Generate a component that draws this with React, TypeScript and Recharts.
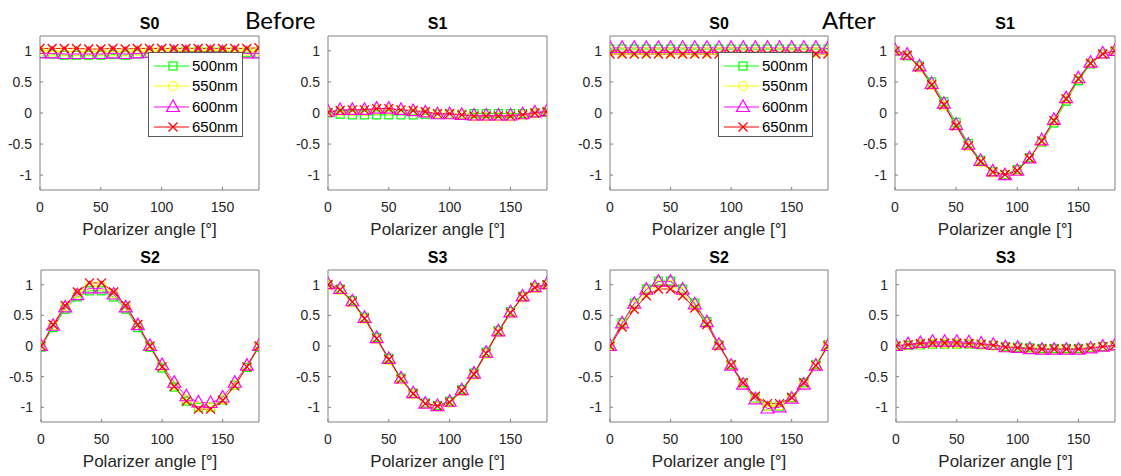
import React from 'react';
import { LineChart, Line, XAxis, YAxis, Legend } from 'recharts';

// Polarizer angles (degrees)
const angles = [0, 10, 20, 30, 40, 50, 60, 70, 80, 90, 100, 110, 120, 130, 140, 150, 160, 170, 180];

// Normalised Stokes parameters, before
const beforeS0_500 = [0.96, 0.95, 0.93, 0.93, 0.93, 0.93, 0.94, 0.93, 0.95, 0.96, 0.97, 0.98, 0.99, 0.99, 0.99, 0.99, 0.98, 0.97, 0.96];
const beforeS0_550 = [1.0, 0.99, 0.99, 0.99, 0.99, 0.99, 0.99, 0.99, 1.0, 1.0, 1.0, 1.01, 1.01, 1.01, 1.01, 1.01, 1.0, 1.0, 1.0];
const beforeS0_600 = [0.96, 0.96, 0.95, 0.95, 0.95, 0.95, 0.96, 0.95, 0.96, 0.97, 0.97, 0.98, 0.98, 0.98, 0.98, 0.98, 0.97, 0.96, 0.96];
const beforeS0_650 = [1.04, 1.04, 1.04, 1.04, 1.03, 1.03, 1.04, 1.03, 1.04, 1.04, 1.04, 1.04, 1.04, 1.04, 1.04, 1.04, 1.04, 1.04, 1.05];

const beforeS1_500 = [0.0, -0.02, -0.03, -0.03, -0.03, -0.03, -0.03, -0.03, -0.02, -0.02, -0.02, -0.02, -0.01, -0.01, -0.01, -0.01, -0.01, 0.0, 0.01];
const beforeS1_550 = [0.01, 0.02, 0.03, 0.03, 0.05, 0.05, 0.04, 0.03, 0.01, -0.01, -0.02, -0.03, -0.06, -0.06, -0.06, -0.06, -0.04, -0.01, 0.02];
const beforeS1_600 = [0.02, 0.05, 0.05, 0.05, 0.07, 0.07, 0.05, 0.03, 0.01, -0.02, -0.02, -0.03, -0.04, -0.04, -0.04, -0.04, -0.02, 0.01, 0.03];
const beforeS1_650 = [0.01, 0.04, 0.05, 0.05, 0.07, 0.07, 0.05, 0.04, 0.02, -0.01, -0.01, -0.03, -0.05, -0.05, -0.05, -0.05, -0.03, 0.0, 0.02];

const beforeS2_500 = [-0.02, 0.3, 0.6, 0.8, 0.9, 0.9, 0.8, 0.6, 0.3, -0.02, -0.36, -0.67, -0.9, -1.0, -1.0, -0.88, -0.64, -0.35, -0.02];
const beforeS2_550 = [0.0, 0.34, 0.65, 0.86, 0.98, 0.98, 0.86, 0.64, 0.34, 0.0, -0.33, -0.64, -0.87, -0.99, -1.0, -0.87, -0.63, -0.33, 0.0];
const beforeS2_600 = [0.0, 0.33, 0.63, 0.83, 0.94, 0.94, 0.84, 0.63, 0.34, 0.0, -0.31, -0.6, -0.82, -0.92, -0.93, -0.84, -0.6, -0.32, 0.0];
const beforeS2_650 = [0.0, 0.35, 0.66, 0.88, 1.03, 1.03, 0.88, 0.66, 0.35, 0.0, -0.34, -0.66, -0.9, -1.03, -1.03, -0.89, -0.65, -0.34, 0.0];

const beforeS3_500 = [1.0, 0.93, 0.74, 0.47, 0.14, -0.2, -0.52, -0.77, -0.93, -0.97, -0.9, -0.71, -0.44, -0.1, 0.25, 0.56, 0.81, 0.96, 1.0];
const beforeS3_550 = [0.99, 0.91, 0.71, 0.44, 0.11, -0.23, -0.55, -0.79, -0.95, -0.99, -0.93, -0.74, -0.47, -0.13, 0.22, 0.53, 0.79, 0.94, 0.99];
const beforeS3_600 = [1.01, 0.93, 0.73, 0.46, 0.13, -0.21, -0.53, -0.77, -0.94, -0.98, -0.91, -0.72, -0.45, -0.11, 0.24, 0.55, 0.81, 0.96, 1.01];
const beforeS3_650 = [1.0, 0.92, 0.72, 0.45, 0.12, -0.22, -0.54, -0.78, -0.94, -0.98, -0.92, -0.73, -0.46, -0.12, 0.23, 0.54, 0.8, 0.95, 1.0];

// Normalised Stokes parameters, after
const afterS0_500 = [1.03, 1.03, 1.03, 1.03, 1.03, 1.03, 1.03, 1.03, 1.03, 1.03, 1.03, 1.03, 1.03, 1.03, 1.03, 1.03, 1.03, 1.03, 1.03];
const afterS0_550 = [0.99, 0.98, 0.98, 0.98, 0.98, 0.98, 0.98, 0.98, 0.98, 0.98, 0.98, 0.98, 0.98, 0.98, 0.98, 0.98, 0.98, 0.98, 0.99];
const afterS0_600 = [1.05, 1.05, 1.05, 1.05, 1.05, 1.05, 1.05, 1.05, 1.05, 1.05, 1.05, 1.05, 1.05, 1.05, 1.05, 1.05, 1.05, 1.05, 1.04];
const afterS0_650 = [0.95, 0.95, 0.95, 0.95, 0.95, 0.95, 0.95, 0.95, 0.95, 0.95, 0.95, 0.95, 0.95, 0.95, 0.95, 0.95, 0.95, 0.95, 0.95];

const afterS1_500 = [0.99, 0.92, 0.76, 0.5, 0.18, -0.15, -0.49, -0.76, -0.94, -0.99, -0.91, -0.72, -0.47, -0.16, 0.19, 0.52, 0.79, 0.95, 0.99];
const afterS1_550 = [0.99, 0.93, 0.73, 0.45, 0.12, -0.2, -0.53, -0.79, -0.96, -1.0, -0.93, -0.74, -0.46, -0.13, 0.22, 0.55, 0.8, 0.95, 1.0];
const afterS1_600 = [1.01, 0.94, 0.75, 0.47, 0.15, -0.19, -0.51, -0.77, -0.94, -1.0, -0.93, -0.73, -0.44, -0.11, 0.24, 0.56, 0.81, 0.96, 1.0];
const afterS1_650 = [1.0, 0.93, 0.74, 0.45, 0.13, -0.21, -0.53, -0.78, -0.95, -0.99, -0.93, -0.73, -0.45, -0.12, 0.23, 0.55, 0.8, 0.95, 1.0];

const afterS2_500 = [0.02, 0.38, 0.7, 0.93, 1.06, 1.06, 0.93, 0.7, 0.4, 0.02, -0.3, -0.6, -0.85, -0.98, -0.98, -0.84, -0.6, -0.3, 0.02];
const afterS2_550 = [0.01, 0.35, 0.66, 0.88, 1.0, 1.0, 0.88, 0.66, 0.37, 0.01, -0.31, -0.62, -0.86, -0.98, -0.97, -0.85, -0.62, -0.31, 0.01];
const afterS2_600 = [0.0, 0.37, 0.69, 0.92, 1.05, 1.05, 0.92, 0.68, 0.39, 0.02, -0.32, -0.63, -0.87, -1.02, -1.0, -0.86, -0.63, -0.32, 0.0];
const afterS2_650 = [0.0, 0.31, 0.6, 0.82, 0.93, 0.93, 0.82, 0.62, 0.35, 0.0, -0.31, -0.6, -0.82, -0.94, -0.94, -0.84, -0.6, -0.32, 0.0];

const afterS3_500 = [0.0, 0.01, 0.02, 0.03, 0.03, 0.03, 0.03, 0.02, 0.01, -0.01, -0.02, -0.03, -0.04, -0.04, -0.04, -0.04, -0.03, -0.01, 0.0];
const afterS3_550 = [0.0, 0.02, 0.03, 0.04, 0.04, 0.04, 0.04, 0.02, 0.0, -0.02, -0.04, -0.05, -0.06, -0.06, -0.06, -0.06, -0.04, -0.02, 0.0];
const afterS3_600 = [0.0, 0.03, 0.05, 0.07, 0.07, 0.07, 0.06, 0.04, 0.02, -0.02, -0.03, -0.05, -0.06, -0.06, -0.06, -0.06, -0.04, -0.01, 0.01];
const afterS3_650 = [0.0, 0.02, 0.04, 0.05, 0.05, 0.05, 0.04, 0.03, 0.01, -0.02, -0.03, -0.04, -0.05, -0.05, -0.05, -0.05, -0.03, -0.01, 0.01];

const xTicks = [0, 50, 100, 150];
const yTicks = [-1, -0.5, 0, 0.5, 1];

const SERIES = [
  { key: 'nm500', name: '500nm', color: '#00ff00', marker: 'square' },
  { key: 'nm550', name: '550nm', color: '#ffff00', marker: 'circle' },
  { key: 'nm600', name: '600nm', color: '#ff00ff', marker: 'triangle' },
  { key: 'nm650', name: '650nm', color: '#ff0000', marker: 'cross' },
];

type Box = { x: number; y: number; w: number; h: number };
type Panel = { title: string; box: Box; values: number[][]; legend?: boolean };

const panels: Panel[] = [
  { title: 'S0', box: { x: 40, y: 36, w: 219, h: 154 }, values: [beforeS0_500, beforeS0_550, beforeS0_600, beforeS0_650], legend: true },
  { title: 'S1', box: { x: 328, y: 36, w: 219, h: 154 }, values: [beforeS1_500, beforeS1_550, beforeS1_600, beforeS1_650] },
  { title: 'S0', box: { x: 610, y: 36, w: 218, h: 154 }, values: [afterS0_500, afterS0_550, afterS0_600, afterS0_650], legend: true },
  { title: 'S1', box: { x: 895, y: 36, w: 220, h: 154 }, values: [afterS1_500, afterS1_550, afterS1_600, afterS1_650] },
  { title: 'S2', box: { x: 41, y: 270, w: 218, h: 152 }, values: [beforeS2_500, beforeS2_550, beforeS2_600, beforeS2_650] },
  { title: 'S3', box: { x: 328, y: 270, w: 219, h: 152 }, values: [beforeS3_500, beforeS3_550, beforeS3_600, beforeS3_650] },
  { title: 'S2', box: { x: 610, y: 270, w: 218, h: 152 }, values: [afterS2_500, afterS2_550, afterS2_600, afterS2_650] },
  { title: 'S3', box: { x: 896, y: 270, w: 219, h: 152 }, values: [afterS3_500, afterS3_550, afterS3_600, afterS3_650] },
];

const FONT = '"Liberation Sans", Arial, sans-serif';
const AXIS = '#808080';
const TEXT = '#262626';
const Y_LIM = 1.24;

function Marker({ shape, cx, cy, color }: { shape: string; cx: number; cy: number; color: string }) {
  if (shape === 'square') {
    return <rect x={cx - 4} y={cy - 4} width={8} height={8} fill="none" stroke={color} strokeWidth={1.2} />;
  }
  if (shape === 'circle') {
    return <circle cx={cx} cy={cy} r={4.5} fill="none" stroke={color} strokeWidth={1.2} />;
  }
  if (shape === 'triangle') {
    return (
      <polygon
        points={`${cx},${cy - 7} ${cx - 6.5},${cy + 4.5} ${cx + 6.5},${cy + 4.5}`}
        fill="none"
        stroke={color}
        strokeWidth={1.2}
      />
    );
  }
  return (
    <path
      d={`M${cx - 4.5},${cy - 4.5}L${cx + 4.5},${cy + 4.5}M${cx - 4.5},${cy + 4.5}L${cx + 4.5},${cy - 4.5}`}
      stroke={color}
      strokeWidth={1.3}
    />
  );
}

function MarkerLegend({ payload }: any) {
  return (
    <div
      style={{
        width: 95,
        height: 85,
        boxSizing: 'border-box',
        border: '1px solid #5a5a5a',
        background: '#fff',
        paddingTop: 3,
        font: `15px ${FONT}`,
        color: '#000',
      }}
    >
      {(payload || []).map((p: any) => {
        const s = SERIES.find((d) => d.key === p.dataKey) || SERIES[0];
        return (
          <div key={s.key} style={{ display: 'flex', alignItems: 'center', height: 20.3 }}>
            <svg width={43} height={20} style={{ display: 'block' }}>
              <line x1={5} x2={40} y1={10} y2={10} stroke={s.color} strokeWidth={1} />
              <Marker shape={s.marker} cx={24} cy={10} color={s.color} />
            </svg>
            <span style={{ lineHeight: '20px' }}>{s.name}</span>
          </div>
        );
      })}
    </div>
  );
}

function StokesPanel({ panel }: { panel: Panel }) {
  const { box } = panel;
  // plot area = box; axes take 40px left, 30px below, 1px top/right
  const left = box.x - 40;
  const top = box.y - 4;
  const width = box.w + 46;
  const height = box.h + 34;

  const rows = angles.map((angle, i) => ({
    angle,
    nm500: panel.values[0][i],
    nm550: panel.values[1][i],
    nm600: panel.values[2][i],
    nm650: panel.values[3][i],
  }));

  const axisCommon = {
    axisLine: { stroke: AXIS, strokeWidth: 1 },
    tickLine: { stroke: AXIS, strokeWidth: 1 },
    tickSize: -3,
    allowDataOverflow: true,
    interval: 0 as const,
  };

  return (
    <>
      <div
        style={{
          position: 'absolute',
          left: box.x,
          width: box.w,
          top: box.y - 20,
          textAlign: 'center',
          font: `bold 16px ${FONT}`,
          lineHeight: '16px',
          color: '#000',
        }}
      >
        {panel.title}
      </div>
      <div style={{ position: 'absolute', left, top }}>
        <LineChart width={width} height={height} data={rows} margin={{ top: 3, right: 5, bottom: 0, left: 0 }}>
          <XAxis
            xAxisId="b"
            dataKey="angle"
            type="number"
            domain={[0, 180]}
            ticks={xTicks}
            height={30}
            tickMargin={15}
            tick={{ fontSize: 14, fill: TEXT, fontFamily: FONT }}
            {...axisCommon}
          />
          <XAxis
            xAxisId="t"
            orientation="top"
            dataKey="angle"
            type="number"
            domain={[0, 180]}
            ticks={xTicks}
            height={1}
            tick={false}
            {...axisCommon}
          />
          <YAxis
            yAxisId="l"
            type="number"
            domain={[-Y_LIM, Y_LIM]}
            ticks={yTicks}
            width={40}
            tickMargin={11}
            tick={{ fontSize: 14, fill: TEXT, fontFamily: FONT }}
            {...axisCommon}
          />
          <YAxis
            yAxisId="r"
            orientation="right"
            type="number"
            domain={[-Y_LIM, Y_LIM]}
            ticks={yTicks}
            width={1}
            tick={false}
            {...axisCommon}
          />
          {SERIES.map((s) => (
            <Line
              key={s.key}
              xAxisId="b"
              yAxisId="l"
              dataKey={s.key}
              name={s.name}
              type="linear"
              stroke={s.color}
              strokeWidth={1}
              activeDot={false}
              isAnimationActive={false}
              dot={(p: any) => (
                <Marker key={`${s.key}-${p.index}`} shape={s.marker} cx={p.cx} cy={p.cy} color={s.color} />
              )}
            />
          ))}
          {panel.legend && (
            <Legend
              layout="vertical"
              align="center"
              verticalAlign="middle"
              content={<MarkerLegend />}
              wrapperStyle={{ left: 148, top: 52 - top, width: 95, height: 85 }}
            />
          )}
        </LineChart>
      </div>
      <div
        style={{
          position: 'absolute',
          left: box.x - 20,
          width: box.w + 40,
          top: box.y + box.h + 31,
          textAlign: 'center',
          font: `17px ${FONT}`,
          lineHeight: '17px',
          color: TEXT,
        }}
      >
        Polarizer angle [°]
      </div>
    </>
  );
}

export default function App() {
  return (
    <div
      style={{
        position: 'absolute',
        left: 0,
        top: 0,
        width: 1121,
        height: 476,
        background: '#fff',
        overflow: 'hidden',
      }}
    >
      {panels.map((p, i) => (
        <StokesPanel key={i} panel={p} />
      ))}
      <div style={{ position: 'absolute', left: 245, top: 5, font: '24px Lato, sans-serif', color: '#000' }}>Before</div>
      <div style={{ position: 'absolute', left: 822, top: 5, font: '24px Lato, sans-serif', color: '#000' }}>After</div>
    </div>
  );
}
